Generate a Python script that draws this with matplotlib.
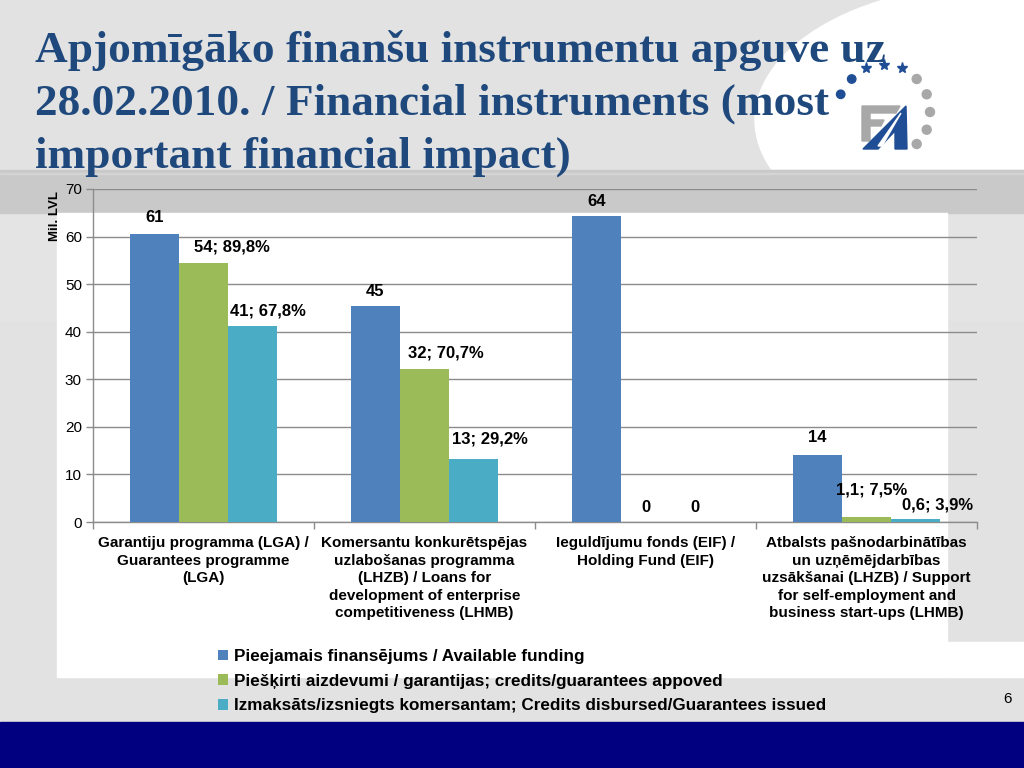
import matplotlib
matplotlib.use('Agg')
import matplotlib.pyplot as plt
from matplotlib.patches import Rectangle, Ellipse, Circle, Polygon
import numpy as np

plt.rcParams['font.family'] = ['Liberation Sans', 'DejaVu Sans']

# ---------------- data ----------------
categories = [
    "Garantiju programma (LGA) /\nGuarantees programme\n(LGA)",
    "Komersantu konkurētspējas\nuzlabošanas programma\n(LHZB) / Loans for\ndevelopment of enterprise\ncompetitiveness (LHMB)",
    "Ieguldījumu fonds (EIF) /\nHolding Fund (EIF)",
    "Atbalsts pašnodarbinātības\nun uzņēmējdarbības\nuzsākšanai (LHZB) / Support\nfor self-employment and\nbusiness start-ups (LHMB)",
]
series_names = [
    "Pieejamais finansējums / Available funding",
    "Piešķirti aizdevumi / garantijas; credits/guarantees appoved",
    "Izmaksāts/izsniegts komersantam; Credits disbursed/Guarantees issued",
]
available = [60.6, 45.4, 64.3, 14.1]
approved = [54.4, 32.1, 0.0, 1.07]
disbursed = [41.1, 13.3, 0.0, 0.55]
available_labels = ["61", "45", "64", "14"]
approved_labels = ["54; 89,8%", "32; 70,7%", "0", "1,1; 7,5%"]
disbursed_labels = ["41; 67,8%", "13; 29,2%", "0", "0,6; 3,9%"]
y_ticks = [0, 10, 20, 30, 40, 50, 60, 70]
title_lines = ["Apjomīgāko finanšu instrumentu apguve uz",
               "28.02.2010. / Financial instruments (most",
               "important financial impact)"]
y_label = "Mil. LVL"
page_number = "6"

# label offsets in pixels (style)
available_off = [(0, 16), (0, 15), (0, 15), (0, 17)]
approved_off = [(28, 16), (21, 16), (0, 14), (5, 27)]
disbursed_off = [(15, 15), (16, 20), (0, 14), (22, 14)]

colors = ['#4F81BD', '#9BBB59', '#4BACC6']
title_color = '#1F497D'
grid_color = '#8C8C8C'

W, H = 1024, 768
fig = plt.figure(figsize=(W / 100, H / 100), dpi=100)

# ---------------- slide background ----------------
bg = fig.add_axes([0, 0, 1, 1], zorder=0)
bg.set_xlim(0, W)
bg.set_ylim(H, 0)
bg.axis('off')
bg.add_patch(Rectangle((0, 0), W, H, color='#E2E2E2', zorder=0))
bg.add_patch(Ellipse((1000, 120), 490, 273, color='white', zorder=1))
bg.add_patch(Rectangle((0, 170), W, 150, color='#E4E4E4', zorder=1.5))
bg.add_patch(Rectangle((0, 170), W, 43, color='#C9C9C9', zorder=2))
bg.add_patch(Rectangle((0, 172.5), W, 1.2, color='#D4D4D4', zorder=2.1))
bg.add_patch(Rectangle((57, 213), 890, 464, color='white', zorder=2))
bg.add_patch(Rectangle((947, 642), W - 947, 35, color='white', zorder=2))
bg.add_patch(Rectangle((0, 722), W, 46, color='#000080', zorder=2))

for i, line in enumerate(title_lines):
    bg.text(35, 62 + 53 * i, line, fontsize=32.6, fontweight='bold',
            family=['Liberation Serif', 'DejaVu Serif'], color=title_color,
            va='baseline', ha='left', zorder=3)

# logo
logo_blue = '#1F4E96'
logo_grey = '#A8A8A8'
for (cx, cy) in [(851.7, 79), (840.7, 94.3)]:
    bg.add_patch(Circle((cx, cy), 4.2, color=logo_blue, zorder=4))
for (cx, cy) in [(916.7, 79), (926.7, 94.3), (930, 112), (926.7, 129.7), (916.7, 144)]:
    bg.add_patch(Circle((cx, cy), 4.5, color=logo_grey, zorder=4))
bg.plot([866, 884, 901.7], [68, 65, 68], ls='none', marker='*', ms=8,
        color=logo_blue, zorder=4)
bg.add_patch(Polygon([(862, 106), (900, 106), (896, 113), (870, 113), (870, 120),
                      (884, 120), (881, 126), (870, 126), (870, 141), (862, 141)],
                     closed=True, color=logo_grey, zorder=4))
bg.add_patch(Polygon([(863, 149), (906, 106), (907, 149), (895, 149), (895, 131),
                      (878, 149)], closed=True, color=logo_blue, zorder=5))
bg.add_patch(Polygon([(878, 146), (901, 113), (882, 146)], closed=True,
                     color='white', zorder=6))

bg.text(55, 216, y_label, rotation=90, ha='center', va='center',
        fontsize=9.5, fontweight='bold', zorder=5)
bg.text(1008, 699, page_number, ha='center', va='center', fontsize=11, zorder=5)

# ---------------- chart ----------------
ax = fig.add_axes([93 / W, 1 - 522 / H, (977 - 93) / W, (522 - 189) / H], zorder=1)
ax.patch.set_alpha(0)
x = np.arange(len(categories))
w = 0.222
series = [available, approved, disbursed]
labels = [available_labels, approved_labels, disbursed_labels]
offs = [available_off, approved_off, disbursed_off]
handles = []
for k in range(3):
    bars = ax.bar(x + (k - 1) * w, series[k], width=w, color=colors[k], zorder=3)
    handles.append(bars)
    for b, lab, (dx, dy) in zip(bars, labels[k], offs[k]):
        ax.annotate(lab, (b.get_x() + b.get_width() / 2, b.get_height()),
                    xytext=(dx, dy), textcoords='offset pixels',
                    ha='center', va='center', fontsize=12, fontweight='bold',
                    zorder=5, annotation_clip=False)

ax.set_xlim(-0.5, len(categories) - 0.5)
ax.set_ylim(0, 70)
ax.set_yticks(y_ticks)
ax.set_yticklabels([str(t) for t in y_ticks], fontsize=11)
ax.set_xticks(x)
ax.set_xticklabels(categories, fontsize=11, fontweight='bold', linespacing=1.33)
ax.set_xticks(np.arange(len(categories) + 1) - 0.5, minor=True)
ax.tick_params(axis='x', which='major', length=0, pad=10)
ax.tick_params(axis='x', which='minor', length=5, color=grid_color, width=1)
ax.tick_params(axis='y', length=5, color=grid_color, width=1, pad=3)
ax.yaxis.grid(True, color=grid_color, lw=1)
ax.set_axisbelow(True)
for s in ['top', 'right']:
    ax.spines[s].set_visible(False)
for s in ['left', 'bottom']:
    ax.spines[s].set_color(grid_color)
    ax.spines[s].set_linewidth(1)

fig.legend(handles=handles, labels=series_names, loc='upper left',
           bbox_to_anchor=(218 / W, 1 - 649 / H), frameon=False,
           prop={'size': 12.3, 'weight': 'bold'}, handlelength=0.6, handleheight=0.6,
           handletextpad=0.35, labelspacing=0.56, borderpad=0, borderaxespad=0)

fig.savefig('out.png', dpi=100)
